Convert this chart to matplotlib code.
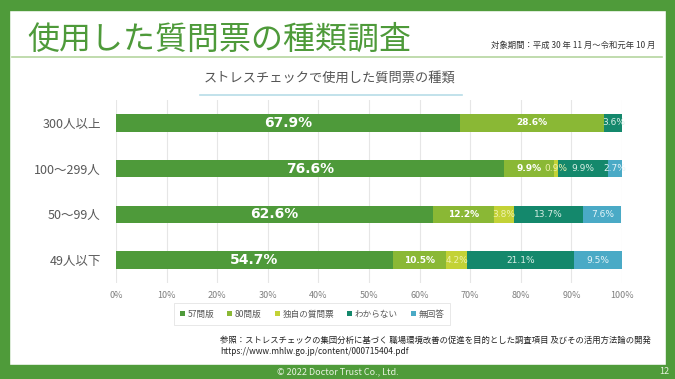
import matplotlib.pyplot as plt
from matplotlib.patches import Rectangle, Patch
from matplotlib.lines import Line2D

plt.rcParams['font.family'] = ['Noto Sans CJK JP', 'DejaVu Sans']

categories = ['300人以上', '100〜299人', '50〜99人', '49人以下']
series_names = ['57問版', '80問版', '独自の質問票', 'わからない', '無回答']
v57 = [67.9, 76.6, 62.6, 54.7]
v80 = [28.6, 9.9, 12.2, 10.5]
own = [0.0, 0.9, 3.8, 4.2]
unknown = [3.6, 9.9, 13.7, 21.1]
no_answer = [0.0, 2.7, 7.6, 9.5]
tick_labels = ['0%', '10%', '20%', '30%', '40%', '50%', '60%', '70%', '80%', '90%', '100%']

colors = ['#4e9a3a', '#8ab835', '#c3d236', '#14886c', '#4aaac6']
label_colors = ['white', 'white', '#eef2b0', '#d8eee6', '#e4f4f8']
label_sizes = [10, 6.5, 6.5, 6.5, 6.5]
label_weights = ['bold', 'bold', 'normal', 'normal', 'normal']

fig = plt.figure(figsize=(6.75, 3.79), dpi=100)
W, H = 675, 379

def fx(px):
    return px / W

def fy(py):
    return 1 - py / H

# green frame
frame = '#4f9b3a'
for x0, y0, w, h in [(0, 0, W, 10), (0, 0, 9, H), (666, 0, 9, H), (0, 365, W, 14)]:
    fig.patches.append(Rectangle((fx(x0), fy(y0 + h)), w / W, h / H,
                                 transform=fig.transFigure, color=frame, zorder=0))

fig.text(fx(27), fy(40), '使用した質問票の種類調査', fontsize=23, color='#4e9a3a',
         va='center', ha='left')
fig.text(fx(655), fy(45), '対象期間：平成 30 年 11 月〜令和元年 10 月', fontsize=6,
         color='#333333', va='center', ha='right')
fig.add_artist(Line2D([fx(12), fx(662)], [fy(57), fy(57)], color='#b5d6a0', lw=1.2,
                      transform=fig.transFigure))
fig.text(fx(330), fy(78), 'ストレスチェックで使用した質問票の種類', fontsize=9.5,
         color='#555555', va='center', ha='center')
fig.add_artist(Line2D([fx(200), fx(462)], [fy(95), fy(95)], color='#b8dde8', lw=1.2,
                      transform=fig.transFigure))

ax = fig.add_axes([fx(116), fy(283), (622 - 116) / W, 183 / H])
series = [v57, v80, own, unknown, no_answer]
ypos = list(range(len(categories)))
left = [0.0] * len(categories)
for k, vals in enumerate(series):
    ax.barh(ypos, vals, left=left, height=0.38, color=colors[k], zorder=2)
    for i, v in enumerate(vals):
        if v > 0:
            ax.text(left[i] + v / 2, ypos[i], f'{v:.1f}%', ha='center', va='center',
                    color=label_colors[k], fontsize=label_sizes[k],
                    fontweight=label_weights[k], family=['DejaVu Sans'], zorder=3)
    left = [l + v for l, v in zip(left, vals)]

ax.set_xlim(0, 100)
ax.set_ylim(3.5, -0.5)
ax.set_xticks(range(0, 101, 10))
ax.set_xticklabels(tick_labels, fontsize=6.5, color='#7f7f7f')
ax.set_yticks(ypos)
ax.set_yticklabels(categories, fontsize=9, color='#595959')
ax.tick_params(length=0, axis='y', pad=11)
ax.tick_params(length=0, axis='x', pad=6)
ax.grid(axis='x', color='#e6e6e6', lw=0.8, zorder=0)
for s in ax.spines.values():
    s.set_visible(False)

handles = [Patch(facecolor=c, label=n) for c, n in zip(colors, series_names)]
leg = fig.legend(handles=handles, loc='center', bbox_to_anchor=(fx(312), fy(314)),
                 ncol=5, fontsize=6.2, frameon=True, handlelength=0.6, handleheight=0.6,
                 handletextpad=0.3, columnspacing=1.5, borderpad=0.5)
leg.get_frame().set_edgecolor('#dddddd')
leg.get_frame().set_linewidth(0.6)
leg.get_frame().set_boxstyle('square', pad=0.2)
for t in leg.get_texts():
    t.set_color('#595959')

fig.text(fx(220), fy(340), '参照：ストレスチェックの集団分析に基づく 職場環境改善の促進を目的とした調査項目 及びその活用方法論の開発',
         fontsize=6, color='#222222', va='center', ha='left')
fig.text(fx(220), fy(352), 'https://www.mhlw.go.jp/content/000715404.pdf',
         fontsize=6, color='#222222', va='center', ha='left')
fig.text(fx(338), fy(372), '© 2022 Doctor Trust Co., Ltd.', fontsize=6.5,
         color='#e8f2e0', va='center', ha='center')
fig.text(fx(664), fy(372), '12', fontsize=6.5, color='#e8f2e0', va='center', ha='center')

fig.savefig('out.png', dpi=100)
